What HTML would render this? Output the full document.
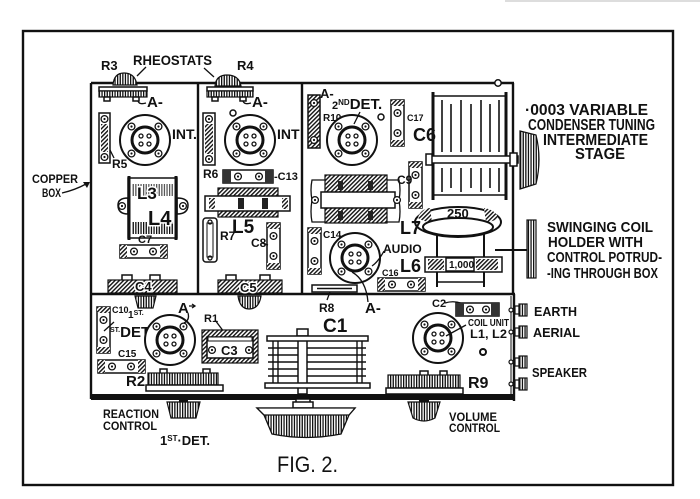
<!DOCTYPE html>
<html><head><meta charset="utf-8"><style>
html,body{margin:0;padding:0;background:#fff;}
svg{display:block;}
text{font-family:"Liberation Sans",sans-serif;font-weight:bold;fill:#111;}
.o{fill:#fff;stroke:#111;stroke-width:1.5;}
.l{fill:none;stroke:#111;stroke-width:1.3;}
.hw{paint-order:stroke;stroke:#fff;stroke-width:3px;}
</style></head><body>
<svg width="700" height="499" viewBox="0 0 700 499" xmlns="http://www.w3.org/2000/svg">
<defs>
<pattern id="h" width="3" height="3" patternUnits="userSpaceOnUse" patternTransform="rotate(45)"><rect width="3" height="3" fill="#fff"/><rect width="1.4" height="3" fill="#111"/></pattern>
<pattern id="v" width="2.6" height="4" patternUnits="userSpaceOnUse"><rect width="2.6" height="4" fill="#fff"/><rect width="1.3" height="4" fill="#111"/></pattern>
<g id="sc"><circle r="3.4" fill="#fff" stroke="#111" stroke-width="1.3"/><circle r="1.1" fill="#111"/></g>
<g id="valve">
 <circle r="25" fill="#fff" stroke="#111" stroke-width="2"/>
 <circle r="13" fill="#fff" stroke="#111" stroke-width="3"/>
 <circle cx="-4" cy="-4" r="2" fill="#fff" stroke="#111" stroke-width="1.3"/>
 <circle cx="4" cy="-4" r="2" fill="#fff" stroke="#111" stroke-width="1.3"/>
 <circle cx="-4" cy="4" r="2" fill="#fff" stroke="#111" stroke-width="1.3"/>
 <circle cx="4" cy="4" r="2" fill="#fff" stroke="#111" stroke-width="1.3"/>
 <use href="#sc" x="-13.5" y="-13.5"/><use href="#sc" x="13.5" y="-13.5"/>
 <use href="#sc" x="-13.5" y="13.5"/><use href="#sc" x="13.5" y="13.5"/>
</g>
<g id="vblk">
 <rect x="0" y="0" width="13" height="46" fill="#fff" stroke="#111" stroke-width="1.5"/>
 <rect x="0" y="0" width="13" height="6" fill="url(#h)"/>
 <rect x="0" y="40" width="13" height="6" fill="url(#h)"/>
 <use href="#sc" x="6.5" y="13"/><use href="#sc" x="6.5" y="33"/>
</g>
<g id="hblk">
 <rect x="0" y="0" width="47" height="13" fill="#fff" stroke="#111" stroke-width="1.5"/>
 <rect x="0" y="0" width="7" height="13" fill="url(#h)"/>
 <rect x="40" y="0" width="7" height="13" fill="url(#h)"/>
 <use href="#sc" x="14" y="6.5"/><use href="#sc" x="33" y="6.5"/>
</g>
<g id="term">
 <circle cx="-3" cy="0" r="2" fill="#fff" stroke="#111" stroke-width="1.2"/>
 <rect x="1" y="-4" width="4" height="8" fill="#fff" stroke="#111" stroke-width="1.2"/>
 <rect x="5" y="-6" width="8" height="12" fill="url(#v)" stroke="#111" stroke-width="1.2"/>
</g>
</defs>

<!-- faint top line -->
<line x1="505" y1="1" x2="700" y2="1" stroke="#bbb" stroke-width="1"/>

<!-- outer frame -->
<rect x="23" y="31" width="650" height="454" fill="none" stroke="#111" stroke-width="2.4"/>

<!-- box -->
<g stroke="#111" stroke-width="2.4" fill="none">
 <path d="M91 83 H514"/>
 <path d="M91 83 V399"/>
 <path d="M198 83 V294"/>
 <path d="M302 83 V294"/>
 <path d="M513 83 V294"/>
 <path d="M91 294 H515"/>
 <path d="M514 294 V401"/>
</g>
<line x1="511" y1="296" x2="511" y2="396" stroke="#111" stroke-width="1"/>
<circle cx="498" cy="83" r="3.2" fill="#fff" stroke="#111" stroke-width="1.5"/>
<rect x="91" y="394" width="424" height="6" fill="#111"/>

<!-- rheostats -->
<path d="M113 85 Q114 73 124 73 Q135 73 137 85 Z" fill="url(#v)" stroke="#111" stroke-width="1.2"/>
<path d="M215 86 Q216 75 227 75 Q239 75 241 86 Z" fill="url(#v)" stroke="#111" stroke-width="1.2"/>
<rect x="99" y="87" width="48" height="4" class="o"/>
<rect x="99" y="91" width="48" height="6" fill="url(#v)" stroke="#111" stroke-width="1.2"/>
<rect x="104" y="97" width="6" height="4" class="o"/><rect x="133" y="97" width="6" height="4" class="o"/>
<rect x="207" y="87" width="46" height="4" class="o"/>
<rect x="207" y="91" width="46" height="6" fill="url(#v)" stroke="#111" stroke-width="1.2"/>
<rect x="212" y="97" width="6" height="4" class="o"/><rect x="240" y="97" width="6" height="4" class="o"/>
<path d="M138 101 Q139 105 146 103" class="l"/>
<path d="M243 101 Q244 105 251 103" class="l"/>
<text x="101" y="70" font-size="13">R3</text>
<text x="133" y="65" font-size="14" textLength="79" lengthAdjust="spacingAndGlyphs">RHEOSTATS</text>
<text x="237" y="70" font-size="13">R4</text>
<path d="M146 67 L137 76 M204 68 L214 77" class="l"/>
<text x="147" y="107" font-size="15">A-</text>
<text x="252" y="107" font-size="15">A-</text>

<!-- INT valves -->
<use href="#valve" x="145" y="140"/>
<use href="#valve" x="250" y="140"/>
<text x="172" y="139" font-size="14">INT.</text>
<text x="277" y="139" font-size="14">INT</text>
<circle cx="233" cy="113" r="3" fill="#fff" stroke="#111" stroke-width="1.5"/>

<!-- R5, R6 -->
<rect x="99" y="113" width="11" height="50" class="o"/>
<rect x="101" y="124" width="7" height="28" fill="url(#h)"/>
<use href="#sc" x="104.5" y="119"/><use href="#sc" x="104.5" y="157"/>
<path d="M110 150 L114 158" class="l"/>
<text x="112" y="168" font-size="12">R5</text>
<rect x="203" y="113" width="12" height="52" class="o"/>
<rect x="205" y="124" width="8" height="30" fill="url(#h)"/>
<use href="#sc" x="209" y="119"/><use href="#sc" x="209" y="159"/>
<text x="203" y="178" font-size="12">R6</text>

<!-- copper box label -->
<text x="32" y="183" font-size="12" textLength="46" lengthAdjust="spacingAndGlyphs">COPPER</text>
<text x="42" y="197" font-size="12" textLength="19" lengthAdjust="spacingAndGlyphs">BOX</text>
<path d="M62 193 Q75 190 86 184" class="l"/>
<path d="M90 182 L83 182 L87 188 Z" fill="#111"/>

<!-- L3 L4 -->
<path d="M128 198 Q118 198 118 205 Q118 214 128 214 Z" class="o"/>
<path d="M177 198 Q188 198 188 205 Q188 214 177 214 Z" class="o"/>
<use href="#sc" x="122" y="206"/><use href="#sc" x="183" y="206"/>
<rect x="128" y="178" width="49" height="60" class="o"/>
<rect x="132" y="184" width="42" height="12" fill="url(#v)" opacity="0.7"/>
<rect x="132" y="222" width="42" height="12" fill="url(#v)"/>
<line x1="129" y1="176" x2="129" y2="240" stroke="#111" stroke-width="3"/>
<line x1="176" y1="176" x2="176" y2="240" stroke="#111" stroke-width="3"/>
<text x="137" y="199" font-size="17" class="hw">L3</text>
<text x="148" y="225" font-size="20" class="hw">L4</text>

<!-- C7 -->
<use href="#hblk" x="120" y="245"/>
<text x="138" y="243" font-size="11">C7</text>

<!-- C4 -->
<rect x="122" y="275" width="10" height="6" class="o"/><rect x="150" y="275" width="10" height="6" class="o"/>
<rect x="108" y="280" width="69" height="13" fill="url(#h)" stroke="#111" stroke-width="1.2"/>
<text x="135" y="291" font-size="13" class="hw">C4</text>
<path d="M135 296 H156 L153 308 H138 Z" fill="url(#v)" stroke="#111" stroke-width="1.2"/>

<!-- middle column -->
<rect x="223" y="170" width="50" height="13" class="o"/>
<rect x="223" y="170" width="8" height="13" fill="#333"/><rect x="265" y="170" width="8" height="13" fill="#333"/>
<use href="#sc" x="238" y="176.5"/><use href="#sc" x="259" y="176.5"/>
<text x="274" y="180" font-size="11">-C13</text>
<rect x="218" y="188" width="60" height="29" fill="url(#h)" stroke="#111" stroke-width="1.2"/>
<rect x="205" y="196" width="85" height="15" class="o"/>
<rect x="209" y="198" width="6" height="11" fill="url(#h)"/>
<rect x="238" y="198" width="6" height="11" fill="#222"/>
<rect x="262" y="198" width="6" height="11" fill="#222"/>
<rect x="282" y="198" width="6" height="11" fill="url(#h)"/>
<text x="232" y="233" font-size="19">L5</text>
<rect x="203" y="218" width="14" height="44" rx="3" class="o"/>
<rect x="207" y="223" width="6" height="34" fill="none" stroke="#111" stroke-width="1"/>
<circle cx="210" cy="222" r="2" class="l"/><circle cx="210" cy="258" r="2" class="l"/>
<text x="220" y="240" font-size="12">R7</text>
<use href="#vblk" x="267" y="223"/>
<text x="251" y="247" font-size="12">C8</text>
<path d="M262 243 L268 245" class="l"/>
<rect x="226" y="275" width="10" height="6" class="o"/><rect x="260" y="275" width="10" height="6" class="o"/>
<rect x="218" y="280" width="64" height="13" fill="url(#h)" stroke="#111" stroke-width="1.2"/>
<text x="240" y="292" font-size="13" class="hw">C5</text>
<path d="M238 296 H261 Q259 309 249 309 Q240 309 238 296 Z" fill="url(#v)" stroke="#111" stroke-width="1.2"/>

<!-- right upper column -->
<rect x="308" y="95" width="12" height="53" fill="url(#h)" stroke="#111" stroke-width="1.5"/>
<use href="#sc" x="314" y="103"/><use href="#sc" x="314" y="140"/>
<text x="320" y="98" font-size="13">A-</text>
<text x="332" y="109" font-size="15"><tspan font-size="11">2</tspan><tspan font-size="8" dy="-4">ND</tspan><tspan dy="4">DET.</tspan></text>
<text x="323" y="121" font-size="10">R10</text>
<use href="#valve" x="352" y="140"/>
<path d="M360 112 L354 124" class="l"/>
<circle cx="381" cy="117" r="3" fill="#fff" stroke="#111" stroke-width="1.5"/>
<use href="#vblk" x="391" y="100"/>
<text x="407" y="121" font-size="9">C17</text>
<text x="413" y="141" font-size="18">C6</text>

<!-- variable condenser -->
<g stroke="#111">
 <line x1="433" y1="96" x2="507" y2="96" stroke-width="1.5"/>
 <line x1="433" y1="195" x2="507" y2="195" stroke-width="1.5"/>
 <line x1="433" y1="92" x2="433" y2="200" stroke-width="3"/>
 <line x1="506" y1="92" x2="506" y2="200" stroke-width="3"/>
 <g stroke-width="1.6">
  <line x1="442" y1="100" x2="442" y2="152"/><line x1="442" y1="168" x2="442" y2="192"/>
  <line x1="451" y1="104" x2="451" y2="152"/><line x1="451" y1="168" x2="451" y2="188"/>
  <line x1="461" y1="100" x2="461" y2="152"/><line x1="461" y1="168" x2="461" y2="192"/>
  <line x1="471" y1="104" x2="471" y2="152"/><line x1="471" y1="168" x2="471" y2="188"/>
  <line x1="481" y1="100" x2="481" y2="152"/><line x1="481" y1="168" x2="481" y2="192"/>
  <line x1="490" y1="104" x2="490" y2="152"/><line x1="490" y1="168" x2="490" y2="188"/>
  <line x1="499" y1="100" x2="499" y2="152"/><line x1="499" y1="168" x2="499" y2="192"/>
 </g>
</g>
<rect x="430" y="156" width="88" height="7" class="o"/>
<rect x="426" y="154" width="6" height="11" class="o"/>
<rect x="510" y="153" width="7" height="13" class="o"/>
<path d="M520 131 L536 135 Q542 159 536 184 L520 189 Z" fill="url(#v)" stroke="#111" stroke-width="1.2"/>
<text x="525" y="115" font-size="16" textLength="123" lengthAdjust="spacingAndGlyphs">·0003 VARIABLE</text>
<text x="528" y="130" font-size="16" textLength="127" lengthAdjust="spacingAndGlyphs">CONDENSER TUNING</text>
<text x="543" y="145" font-size="16" textLength="105" lengthAdjust="spacingAndGlyphs">INTERMEDIATE</text>
<text x="575" y="159" font-size="16" textLength="50" lengthAdjust="spacingAndGlyphs">STAGE</text>

<!-- transformer -->
<path d="M325 180 H312 Q310 190 312 200 Q310 212 312 222 H325 M387 180 H399 Q401 190 399 200 Q401 212 399 222 H387" class="l"/>
<rect x="325" y="175" width="62" height="48" fill="url(#h)" stroke="#111" stroke-width="1.2"/>
<rect x="321" y="192" width="74" height="16" class="o"/>
<use href="#sc" x="315" y="200"/><use href="#sc" x="397" y="200"/>
<rect x="338" y="181" width="5" height="9" fill="#222"/><rect x="368" y="181" width="5" height="9" fill="#222"/>
<rect x="338" y="211" width="5" height="9" fill="#222"/><rect x="368" y="211" width="5" height="9" fill="#222"/>

<use href="#vblk" x="409" y="162"/>
<text x="397" y="184" font-size="12">C9</text>

<!-- L7 / L6 -->
<line x1="437" y1="232" x2="437" y2="287" stroke="#111" stroke-width="2"/>
<line x1="484" y1="232" x2="484" y2="287" stroke="#111" stroke-width="2"/>
<line x1="437" y1="282" x2="484" y2="282" stroke="#111" stroke-width="1.5"/>
<ellipse cx="458" cy="222" rx="43" ry="15" fill="#fff" stroke="#111" stroke-width="2"/>
<path d="M418 218 Q420 209 430 208 L432 222 Q424 222 418 218 Z" fill="url(#h)"/>
<path d="M484 208 Q496 210 498 218 Q493 222 486 222 Z" fill="url(#h)"/>
<ellipse cx="458" cy="227" rx="35" ry="9" fill="#fff" stroke="#111" stroke-width="2"/>
<text x="447" y="218" font-size="13">250</text>
<text x="400" y="234" font-size="18">L7</text>
<line x1="495" y1="250" x2="527" y2="250" stroke="#111" stroke-width="2"/>
<rect x="527" y="220" width="9" height="58" fill="url(#v)" stroke="#111" stroke-width="1.2"/>
<rect x="425" y="257" width="77" height="15" class="o"/>
<rect x="428" y="259" width="16" height="11" fill="url(#h)"/>
<rect x="476" y="259" width="22" height="11" fill="url(#h)"/>
<rect x="446" y="258" width="28" height="13" class="o"/>
<text x="449" y="268" font-size="10">1,000</text>
<text x="400" y="272" font-size="18">L6</text>

<!-- audio -->
<use href="#vblk" x="308" y="228"/>
<text x="323" y="238" font-size="10">C14</text>
<use href="#valve" x="355" y="258"/>
<text x="383" y="253" font-size="12">AUDIO</text>
<path d="M384 251 Q378 262 372 266" class="l"/>
<use href="#hblk" x="378" y="278"/>
<text x="382" y="276" font-size="9">C16</text>
<rect x="312" y="285" width="45" height="7" class="o"/>
<line x1="317" y1="288.5" x2="352" y2="288.5" stroke="#111" stroke-width="1.5"/>
<path d="M330 292 L327 300" class="l"/>
<text x="319" y="312" font-size="12">R8</text>
<path d="M368 302 Q366 280 352 272" class="l"/>
<text x="365" y="313" font-size="15">A-</text>

<!-- lower section left -->
<use href="#vblk" x="97" y="307"/>
<text x="112" y="313" font-size="9">C10</text>
<path d="M104 331 L114 322" class="l"/>
<text x="128" y="318" font-size="10">1<tspan font-size="7" dy="-3">ST.</tspan></text>
<text x="110" y="337" font-size="15"><tspan font-size="7" dy="-5">ST.</tspan><tspan dy="5">DET.</tspan></text>
<path d="M150 337 L157 340" class="l"/>
<use href="#valve" x="170" y="340"/>
<text x="178" y="313" font-size="15">A</text>
<path d="M189 306 H195 M192 304 L195 306 L192 308" class="l"/>
<path d="M188 313 Q190 320 184 323" class="l"/>
<text x="204" y="322" font-size="11">R1</text>
<path d="M215 320 L224 332" class="l"/>
<rect x="202" y="330" width="56" height="33" fill="url(#h)" stroke="#111" stroke-width="1.2"/>
<rect x="207" y="337" width="46" height="21" class="o"/>
<rect x="208" y="337" width="44" height="4" fill="#fff" stroke="#111" stroke-width="1"/>
<use href="#sc" x="212" y="350"/><use href="#sc" x="249" y="350"/>
<text x="221" y="355" font-size="13">C3</text>
<use href="#hblk" x="98" y="360"/>
<text x="118" y="357" font-size="10">C15</text>
<text x="126" y="386" font-size="15">R2</text>
<rect x="160" y="369" width="7" height="5" class="o"/><rect x="203" y="369" width="7" height="5" class="o"/>
<rect x="148" y="373" width="70" height="12" fill="url(#v)" stroke="#111" stroke-width="1.2"/>
<rect x="146" y="385" width="77" height="6" class="o"/>
<rect x="179" y="399" width="9" height="4" fill="#111"/>
<path d="M167 402 H200 L196 418 H171 Z" fill="url(#v)" stroke="#111" stroke-width="1.2"/>
<text x="103" y="418" font-size="12" textLength="56" lengthAdjust="spacingAndGlyphs">REACTION</text>
<text x="103" y="430" font-size="12" textLength="54" lengthAdjust="spacingAndGlyphs">CONTROL</text>
<text x="160" y="445" font-size="13">1<tspan font-size="8" dy="-4">ST</tspan><tspan dy="4">·DET.</tspan></text>

<!-- C1 -->
<text x="323" y="332" font-size="19">C1</text>
<g stroke="#111" stroke-width="1.4">
 <line x1="268" y1="348" x2="366" y2="348"/><line x1="268" y1="355" x2="366" y2="355"/>
 <line x1="268" y1="362" x2="366" y2="362"/><line x1="268" y1="369" x2="366" y2="369"/>
 <line x1="268" y1="376" x2="366" y2="376"/>
 <line x1="273" y1="341" x2="273" y2="384"/><line x1="362" y1="341" x2="362" y2="384"/>
 <line x1="278" y1="341" x2="278" y2="384"/><line x1="357" y1="341" x2="357" y2="384"/>
</g>
<rect x="298" y="334" width="9" height="60" class="o"/>
<rect x="297" y="329" width="11" height="7" class="o"/>
<rect x="267" y="336" width="101" height="5" class="o"/>
<rect x="265" y="383" width="105" height="5" class="o"/>
<rect x="296" y="399" width="14" height="4" class="o"/>
<rect x="293" y="402" width="20" height="6" class="o"/>
<path d="M257 408 H355 L349 415 L341 434 Q306 441 272 434 L264 415 Z" fill="url(#v)" stroke="#111" stroke-width="1.3"/>
<path d="M257 408 H355 L349 415 H264 Z" fill="#fff" stroke="#111" stroke-width="1.3"/>

<!-- coil unit side -->
<text x="432" y="307" font-size="11">C2</text>
<path d="M445 303 Q458 299 470 308" class="l"/>
<rect x="456" y="303" width="43" height="13" class="o"/>
<rect x="456" y="303" width="8" height="13" fill="#333"/><rect x="491" y="303" width="8" height="13" fill="#333"/>
<use href="#sc" x="470" y="309.5"/><use href="#sc" x="486" y="309.5"/>
<use href="#valve" x="438" y="338"/>
<path d="M466 325 L446 336" class="l"/>
<text x="468" y="326" font-size="10" textLength="41" lengthAdjust="spacingAndGlyphs">COIL UNIT</text>
<text x="470" y="338" font-size="12" textLength="37" lengthAdjust="spacingAndGlyphs">L1, L2</text>
<circle cx="483" cy="352" r="3" fill="#fff" stroke="#111" stroke-width="2"/>
<rect x="420" y="371" width="8" height="5" class="o"/><rect x="440" y="371" width="7" height="5" class="o"/>
<rect x="388" y="375" width="72" height="13" fill="url(#v)" stroke="#111" stroke-width="1.2"/>
<rect x="386" y="388" width="77" height="6" class="o"/>
<text x="468" y="388" font-size="16">R9</text>
<rect x="419" y="399" width="10" height="4" fill="#111"/>
<path d="M408 402 H440 L435 418 Q424 424 413 418 Z" fill="url(#v)" stroke="#111" stroke-width="1.2"/>
<text x="449" y="421" font-size="12" textLength="48" lengthAdjust="spacingAndGlyphs">VOLUME</text>
<text x="449" y="432" font-size="12" textLength="51" lengthAdjust="spacingAndGlyphs">CONTROL</text>

<!-- terminals -->
<use href="#term" x="514" y="310"/>
<use href="#term" x="514" y="332"/>
<use href="#term" x="514" y="362"/>
<use href="#term" x="514" y="384"/>
<text x="534" y="316" font-size="13" textLength="43" lengthAdjust="spacingAndGlyphs">EARTH</text>
<text x="533" y="337" font-size="13" textLength="47" lengthAdjust="spacingAndGlyphs">AERIAL</text>
<text x="532" y="377" font-size="13" textLength="55" lengthAdjust="spacingAndGlyphs">SPEAKER</text>

<!-- swinging coil text -->
<text x="547" y="232" font-size="15" textLength="106" lengthAdjust="spacingAndGlyphs">SWINGING COIL</text>
<text x="548" y="247" font-size="15" textLength="95" lengthAdjust="spacingAndGlyphs">HOLDER WITH</text>
<text x="547" y="262" font-size="15" textLength="115" lengthAdjust="spacingAndGlyphs">CONTROL POTRUD-</text>
<text x="547" y="278" font-size="15" textLength="111" lengthAdjust="spacingAndGlyphs">-ING THROUGH BOX</text>

<!-- caption -->
<text x="277" y="472" font-size="22" font-weight="normal" style="font-weight:normal" textLength="61" lengthAdjust="spacingAndGlyphs">FIG. 2.</text>
</svg>
</body></html>
